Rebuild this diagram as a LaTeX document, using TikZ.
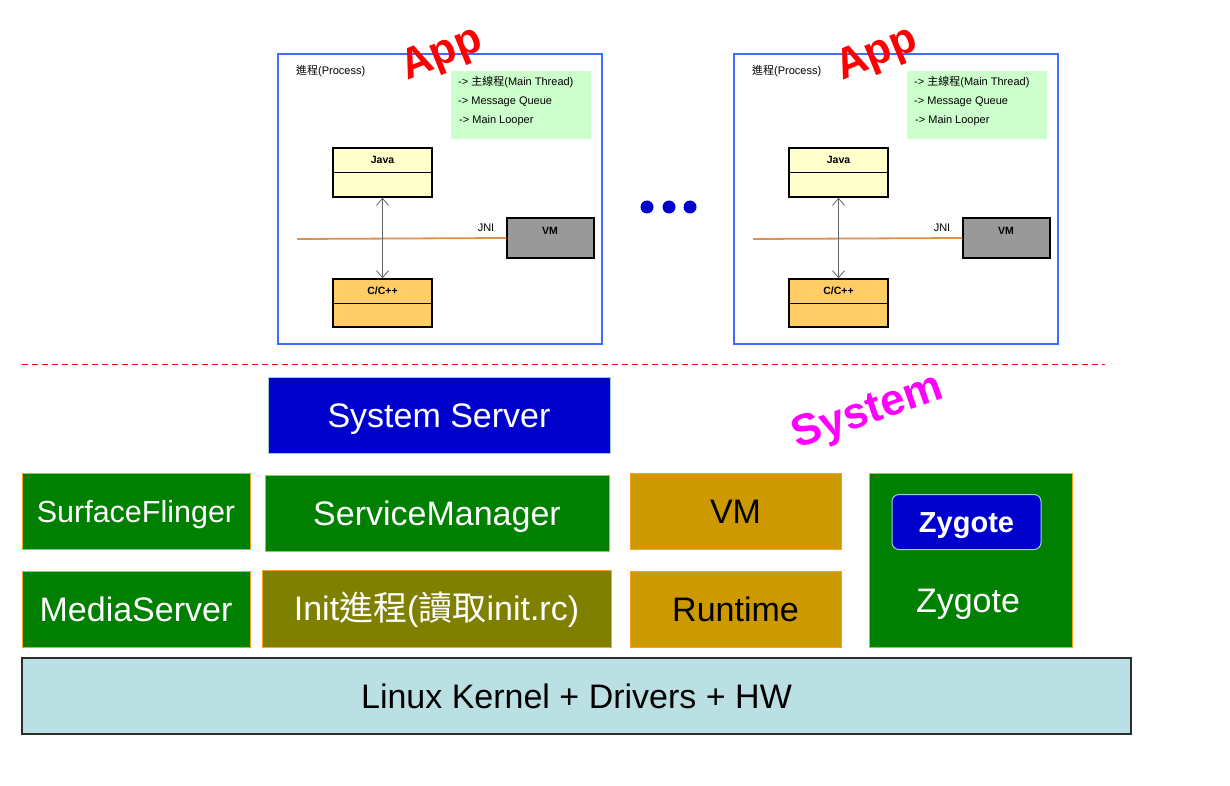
\documentclass[tikz,border=0pt]{standalone}
\usepackage{fontspec}
\setmainfont{Liberation Sans}
\newfontfamily\cjk{Noto Sans CJK TC}
\usepackage{xcolor}
\usetikzlibrary{arrows.meta,calc}

\definecolor{procblue}{RGB}{60,110,255}
\definecolor{msggreen}{RGB}{204,255,204}
\definecolor{javafill}{RGB}{255,255,204}
\definecolor{cppfill}{RGB}{255,204,102}
\definecolor{vmgray}{RGB}{153,153,153}
\definecolor{jniorange}{RGB}{220,145,80}
\definecolor{arrowgray}{RGB}{100,100,100}
\definecolor{dotblue}{RGB}{0,0,204}
\definecolor{ssblue}{RGB}{0,0,204}
\definecolor{ssedge}{RGB}{160,205,220}
\definecolor{svcgreen}{RGB}{0,128,0}
\definecolor{edgeorange}{RGB}{255,160,30}
\definecolor{initolive}{RGB}{128,128,0}
\definecolor{vmgold}{RGB}{204,153,0}
\definecolor{linuxfill}{RGB}{187,224,227}
\definecolor{linuxedge}{RGB}{45,45,45}
\definecolor{appred}{RGB}{255,0,0}
\definecolor{sysmagenta}{RGB}{255,0,255}

\begin{document}
\begin{tikzpicture}[x=1pt,y=-1pt,
    procbox/.style={draw=procblue,line width=1.5pt,minimum width=324pt,minimum height=290pt,inner sep=0pt},
    msgbox/.style={fill=msggreen,minimum width=140pt,minimum height=68pt,inner sep=0pt},
    umlbox/.style={draw=black,line width=1.5pt,minimum width=99pt,minimum height=49pt,inner sep=0pt},
    tinytext/.style={font=\fontsize{11}{13}\selectfont,inner sep=0pt},
    tinybold/.style={font=\bfseries\fontsize{10.5}{12}\selectfont,inner sep=0pt},
    bigword/.style={font=\bfseries\fontsize{43}{47}\selectfont,inner sep=0pt},
    dot/.style={circle,fill=dotblue,minimum size=13pt,inner sep=0pt},
    layer/.style={draw=edgeorange,line width=1pt,inner sep=0pt,text=white,
        font=\fontsize{34}{40}\selectfont,text height=24pt,text depth=0pt}]
    \useasboundingbox (0,0) rectangle (1230,786);

    % left app process
    \node[procbox] (procA) at (440,199) {};
    \node[bigword,text=appred,rotate=22] (appA) at (442,55) {App};
    \node[tinytext,anchor=west] (procAt) at (296,71) {{\cjk 進程}(Process)};
    \node[msgbox] (msgA) at (521,105) {};
    \node[tinytext,anchor=west] (msgA1) at (458,82) {-> {\cjk 主線程}(Main Thread)};
    \node[tinytext,anchor=west] (msgA2) at (458,102) {-> Message Queue};
    \node[tinytext,anchor=west] (msgA3) at (459,121) {-> Main Looper};
    \node[umlbox,fill=javafill] (javaA) at (382.5,172.5) {};
    \draw[line width=0.6pt] (javaA.west) -- (javaA.east);
    \node[tinybold] (javaAt) at ($(javaA.north)!0.5!(javaA.center)$) {Java};
    \node[umlbox,fill=cppfill,minimum height=48pt] (cppA) at (382.5,303) {};
    \draw[line width=0.6pt] (cppA.west) -- (cppA.east);
    \node[tinybold] (cppAt) at ($(cppA.north)!0.5!(cppA.center)$) {C/C++};
    \node[umlbox,fill=vmgray,minimum width=87pt,minimum height=40pt] (vmA) at (550.5,238) {};
    \node[tinybold] (vmAt) at (550,231) {VM};
    \coordinate (jniA) at (297,239);
    \draw[jniorange,line width=1.8pt] (jniA) -- (vmA.west);
    \node[tinytext] (jniAt) at (486,228) {JNI};
    \draw[arrowgray,line width=0.8pt,{Straight Barb[length=7pt,width=12pt]}-{Straight Barb[length=7pt,width=12pt]}] (javaA.south) -- (cppA.north);

    % the dots
    \node[dot] (dot1) at (647,207) {};
    \node[dot] (dot2) at (669,207) {};
    \node[dot] (dot3) at (690,207) {};

    % right app process
    \node[procbox] (procB) at (896,199) {};
    \node[bigword,text=appred,rotate=22] (appB) at (877,55) {App};
    \node[tinytext,anchor=west] (procBt) at (752,71) {{\cjk 進程}(Process)};
    \node[msgbox] (msgB) at (977,105) {};
    \node[tinytext,anchor=west] (msgB1) at (914,82) {-> {\cjk 主線程}(Main Thread)};
    \node[tinytext,anchor=west] (msgB2) at (914,102) {-> Message Queue};
    \node[tinytext,anchor=west] (msgB3) at (915,121) {-> Main Looper};
    \node[umlbox,fill=javafill] (javaB) at (838.5,172.5) {};
    \draw[line width=0.6pt] (javaB.west) -- (javaB.east);
    \node[tinybold] (javaBt) at ($(javaB.north)!0.5!(javaB.center)$) {Java};
    \node[umlbox,fill=cppfill,minimum height=48pt] (cppB) at (838.5,303) {};
    \draw[line width=0.6pt] (cppB.west) -- (cppB.east);
    \node[tinybold] (cppBt) at ($(cppB.north)!0.5!(cppB.center)$) {C/C++};
    \node[umlbox,fill=vmgray,minimum width=87pt,minimum height=40pt] (vmB) at (1006.5,238) {};
    \node[tinybold] (vmBt) at (1006,231) {VM};
    \coordinate (jniB) at (753,239);
    \draw[jniorange,line width=1.8pt] (jniB) -- (vmB.west);
    \node[tinytext] (jniBt) at (942,228) {JNI};
    \draw[arrowgray,line width=0.8pt,{Straight Barb[length=7pt,width=12pt]}-{Straight Barb[length=7pt,width=12pt]}] (javaB.south) -- (cppB.north);

    % app / system border
    \coordinate (sepL) at (22,364);
    \coordinate (sepR) at (1105,364);
    \draw[red,line width=0.8pt,dash pattern=on 6pt off 4pt] (sepL) -- (sepR);

    % system layers
    \node[layer,fill=ssblue,draw=ssedge,minimum width=342pt,minimum height=76pt] (sysserver) at (439,415) {System Server};
    \node[bigword,text=sysmagenta,rotate=19,font=\bfseries\fontsize{44}{48}\selectfont] (systemt) at (868,413) {System};
    \node[layer,fill=svcgreen,minimum width=228pt,minimum height=76pt,font=\fontsize{30.5}{36}\selectfont,text height=22pt] (surface) at (136,511) {SurfaceFlinger};
    \node[layer,fill=svcgreen,minimum width=344pt,minimum height=76pt] (svcmgr) at (437,513) {ServiceManager};
    \node[layer,fill=svcgreen,minimum width=228pt,minimum height=76pt] (media) at (136,609) {MediaServer};
    \node[layer,fill=initolive,minimum width=349pt,minimum height=77pt] (init) at (436.5,608.5) {Init{\cjk 進程}({\cjk 讀取}init.rc)};
    \node[layer,fill=vmgold,text=black,minimum width=211pt,minimum height=76pt] (vmlayer) at (735.5,511) {VM};
    \node[layer,fill=vmgold,text=black,minimum width=211pt,minimum height=76pt] (runtime) at (735.5,609) {Runtime};
    \node[layer,fill=svcgreen,minimum width=203pt,minimum height=174pt] (zygbox) at (970.5,560) {};
    \node[layer,fill=ssblue,draw=ssedge,rounded corners=7pt,minimum width=149pt,minimum height=55pt,
        font=\bfseries\fontsize{29}{34}\selectfont,text height=21pt] (zyginner) at (966.5,522) {Zygote};
    \node[layer,draw=none,inner sep=0pt] (zygtext) at (968,600) {Zygote};
    \node[layer,fill=linuxfill,draw=linuxedge,line width=1.5pt,text=black,minimum width=1109pt,minimum height=76pt] (linux) at (576.5,696) {Linux Kernel + Drivers + HW};
\end{tikzpicture}
\end{document}
